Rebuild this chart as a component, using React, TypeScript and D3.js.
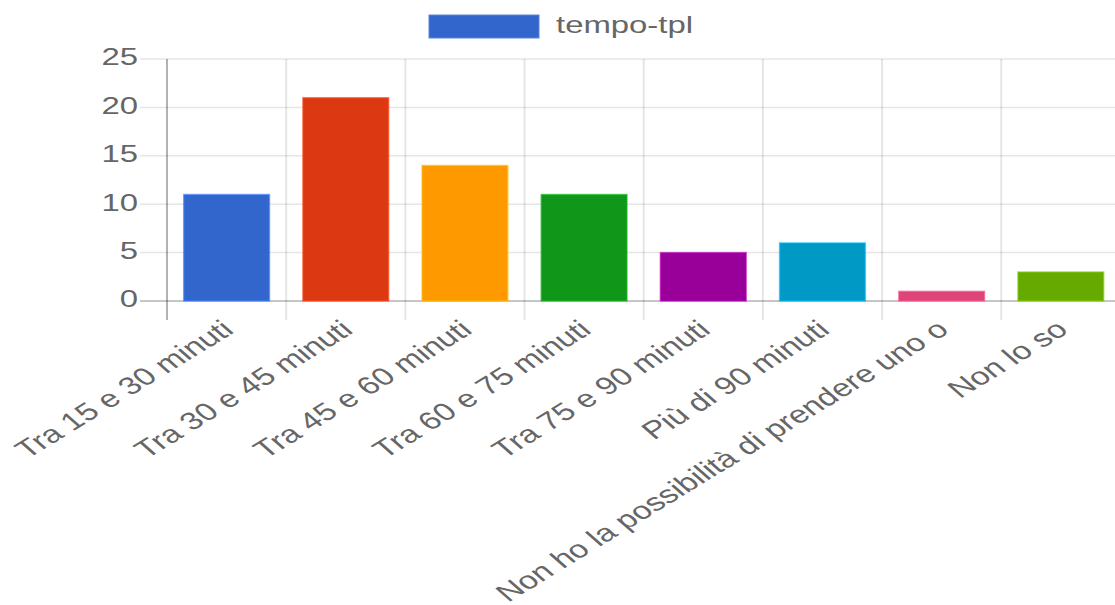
import React from "react";
import * as d3 from "d3";

const categories = [
  "Tra 15 e 30 minuti",
  "Tra 30 e 45 minuti",
  "Tra 45 e 60 minuti",
  "Tra 60 e 75 minuti",
  "Tra 75 e 90 minuti",
  "Più di 90 minuti",
  "Non ho la possibilità di prendere uno o",
  "Non lo so",
];
const values = [11, 21, 14, 11, 5, 6, 1, 3];
const colors = ["#3366cc", "#dc3912", "#ff9900", "#109618", "#990099", "#0099c6", "#dd4477", "#66aa00"];
const yTicks = [0, 5, 10, 15, 20, 25];
const seriesName = "tempo-tpl";

const W = 1115;
const H = 605;
const SX = 1.37;
const FS = 24;
const FONT = "'Liberation Sans', Arial, Helvetica, sans-serif";
const TXT = "#666";

export default function App() {
  const left = 167;
  const right = 1120.4;
  const top = 59;
  const bottom = 301;
  const x = d3.scaleBand<string>().domain(categories).range([left, right]).padding(0);
  const y = d3.scaleLinear().domain([0, 25]).range([bottom, top]);
  const bw = x.bandwidth();
  const boundaries = d3.range(categories.length + 1).map((i) => left + i * bw);

  return (
    <svg width={W} height={H} style={{ position: "absolute", left: 0, top: 0, background: "#fff" }}>
      {/* legend */}
      <rect x={429} y={15} width={110} height={23} fill="#3366cc" stroke="#5a85d8" strokeWidth={1} />
      <text
        transform={`translate(556,27) scale(${SX},1)`}
        fontFamily={FONT}
        fontSize={FS}
        fill={TXT}
        dominantBaseline="middle"
      >
        {seriesName}
      </text>

      {/* horizontal grid */}
      {yTicks.map((t) => (
        <line
          key={"h" + t}
          x1={140}
          x2={W}
          y1={y(t)}
          y2={y(t)}
          stroke={t === 0 ? "rgba(0,0,0,0.3)" : "rgba(0,0,0,0.1)"}
          strokeWidth={1.5}
        />
      ))}
      {/* vertical grid */}
      {boundaries.map((bx, i) => (
        <line
          key={"v" + i}
          x1={bx}
          x2={bx}
          y1={top}
          y2={320}
          stroke={i === 0 ? "rgba(0,0,0,0.3)" : "rgba(0,0,0,0.1)"}
          strokeWidth={2}
        />
      ))}

      {/* y tick labels */}
      {yTicks.map((t) => (
        <text
          key={"yl" + t}
          transform={`translate(138,${y(t)}) scale(${SX},1)`}
          textAnchor="end"
          dominantBaseline="middle"
          fontFamily={FONT}
          fontSize={FS}
          fill={TXT}
        >
          {t}
        </text>
      ))}

      {/* bars */}
      {categories.map((c, i) => {
        const bx = (x(c) as number) + bw * 0.14;
        const w = bw * 0.72;
        return (
          <rect
            key={"b" + i}
            x={bx}
            y={y(values[i])}
            width={w}
            height={y(0) - y(values[i])}
            fill={colors[i]}
            stroke={d3.color(colors[i])!.brighter(0.6).toString()}
            strokeOpacity={0.6}
            strokeWidth={1.5}
          />
        );
      })}

      {/* x labels */}
      {categories.map((c, i) => {
        const cx = (x(c) as number) + bw / 2 + 3;
        return (
          <text
            key={"xl" + i}
            transform={`translate(${cx},327) scale(${SX},1) rotate(-40)`}
            textAnchor="end"
            dominantBaseline="middle"
            fontFamily={FONT}
            fontSize={24.7}
            fill={TXT}
          >
            {c}
          </text>
        );
      })}
    </svg>
  );
}
